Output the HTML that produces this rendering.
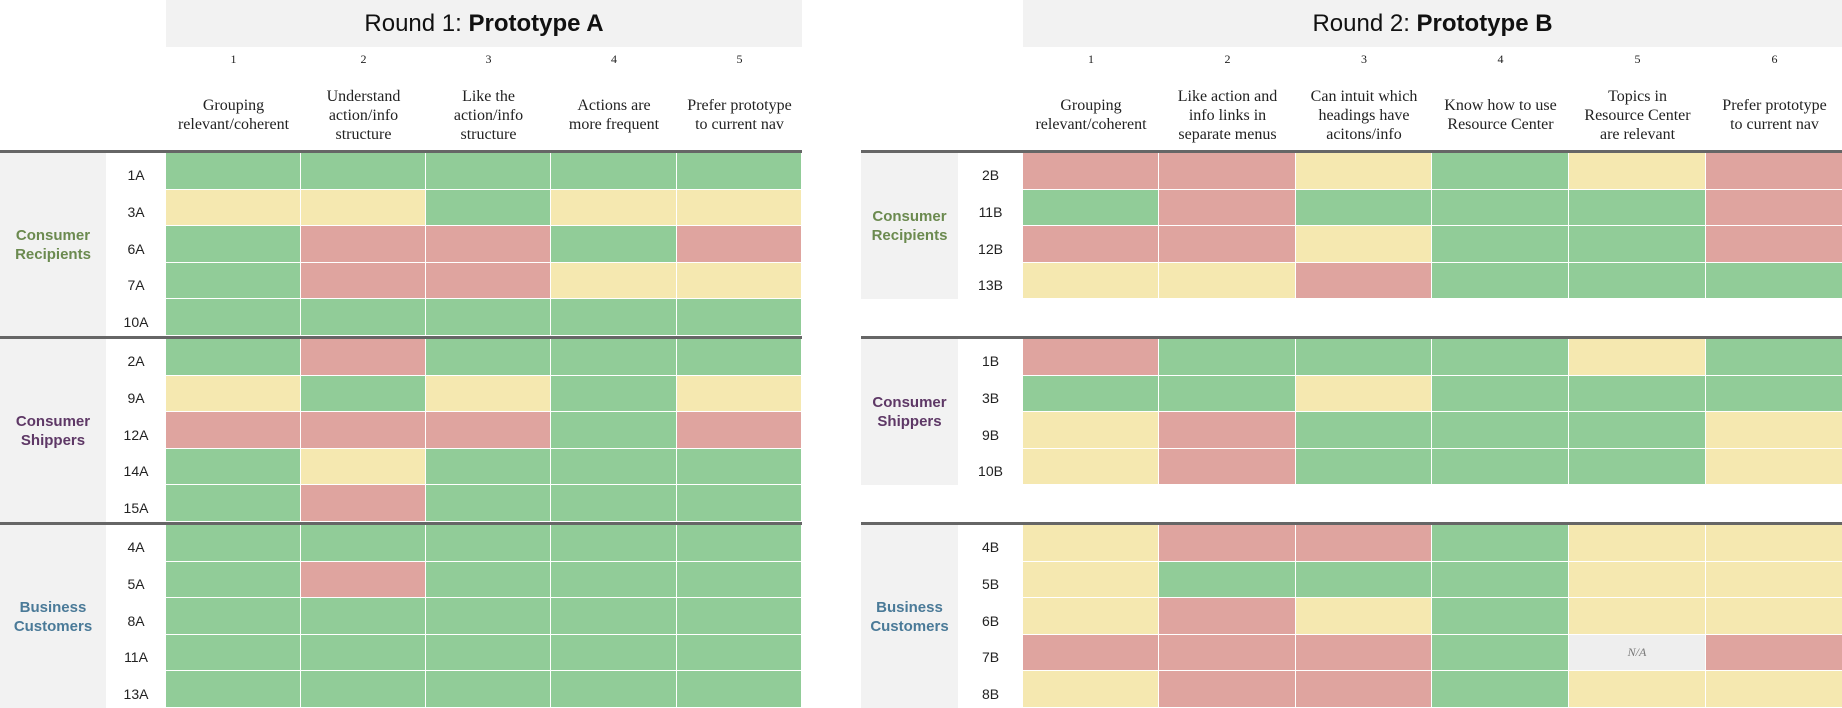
<!DOCTYPE html>
<html><head><meta charset="utf-8"><style>
body{margin:0;width:1842px;height:708px;overflow:hidden;background:#fff;font-family:"Liberation Sans",sans-serif;position:relative}
.a{position:absolute;box-sizing:border-box}
.title{background:#f2f2f2;text-align:center;font-size:24px;line-height:47px;color:#111}
.num{font-family:"Liberation Serif",serif;font-size:12px;text-align:center;color:#222}
.q{font-family:"Liberation Serif",serif;font-size:16px;line-height:19px;text-align:center;color:#222;display:flex;align-items:center;justify-content:center;white-space:nowrap}
.cell{border-right:1.5px solid #fff;border-bottom:1.5px solid #fff}
.rl{font-size:14px;text-align:center;color:#222}
.gl{background:#f2f2f2;font-weight:bold;font-size:15px;line-height:19px;text-align:center;display:flex;align-items:center;justify-content:center}
.line{background:#666;height:3px}
.na{font-family:"Liberation Serif",serif;font-style:italic;font-size:12px;color:#777;display:flex;align-items:center;justify-content:center}
</style></head><body>
<div class="a title" style="left:166px;top:0;width:636px;height:47px">Round 1: <b>Prototype A</b></div>
<div class="a title" style="left:1023px;top:0;width:819px;height:47px">Round 2: <b>Prototype B</b></div>
<script>
const leftQuestions=["Grouping<br>relevant/coherent","Understand<br>action/info<br>structure","Like the<br>action/info<br>structure","Actions are<br>more frequent","Prefer prototype<br>to current nav"];
const rightQuestions=["Grouping<br>relevant/coherent","Like action and<br>info links in<br>separate menus","Can intuit which<br>headings have<br>acitons/info","Know how to use<br>Resource Center","Topics in<br>Resource Center<br>are relevant","Prefer prototype<br>to current nav"];
const groups=["Consumer<br>Recipients","Consumer<br>Shippers","Business<br>Customers"];
const groupColors=["#6b8a4f","#5e3866","#4a7a98"];
const leftRows=[["1A","3A","6A","7A","10A"],["2A","9A","12A","14A","15A"],["4A","5A","8A","11A","13A"]];
const leftValues=[
["GGGGG","YYGYY","GRRGR","GRRYY","GGGGG"],
["GRGGG","YGYGY","RRRGR","GYGGG","GRGGG"],
["GGGGG","GRGGG","GGGGG","GGGGG","GGGGG"]];
const rightRows=[["2B","11B","12B","13B"],["1B","3B","9B","10B"],["4B","5B","6B","7B","8B"]];
const rightValues=[
["RRYGYR","GRGGGR","RRYGGR","YYRGGG"],
["RGGGYG","GGYGGG","YRGGGY","YRGGGY"],
["YRRGYY","YGGGYY","YRYGYY","RRRGNR","YRRGYY"]];
const colorMap={G:"#91cc98",Y:"#f5e8b0",R:"#dfa49f",N:"#eeeeee"};
const ROW_H=36.6, GROUP_PITCH=186, TOP=153;
function rowY(g,r){return TOP+g*GROUP_PITCH+r*ROW_H;}
function add(cls,x,y,w,h,html){const d=document.createElement('div');d.className='a '+cls;d.style.left=x+'px';d.style.top=y+'px';d.style.width=w+'px';d.style.height=h+'px';if(html!==undefined)d.innerHTML=html;document.body.appendChild(d);return d;}
function panel(side,qs,rows,vals,colX,glX,glW,rlX,rlW,lineX,lineW){
  qs.forEach((q,i)=>{
    const w=colX[i+1]-colX[i];
    const n=add('num',colX[i],52,w,16,String(i+1));
    
    
    const t=add('q',colX[i],85,w,60,q);
    
    
  });
  rows.forEach((grp,g)=>{
    const ln=add('line',lineX,TOP-3+g*GROUP_PITCH,lineW,3);
    
    
    const gh=grp.length*ROW_H;
    const gl=add('gl',glX,rowY(g,0),glW,gh,groups[g]);
    gl.style.color=groupColors[g];
    
    
    grp.forEach((lab,r)=>{
      const y=rowY(g,r);
      const rl=add('rl',rlX,y+ROW_H/2-4,rlW,16,lab);
      
      
      const v=vals[g][r];
      for(let c=0;c<v.length;c++){
        const k=v[c];
        const cell=add('cell'+(k==='N'?' na':''),colX[c],y,colX[c+1]-colX[c],ROW_H,k==='N'?'N/A':'');
        cell.style.background=colorMap[k];
        
        
      }
    });
  });
}
panel('round1',leftQuestions,leftRows,leftValues,[166,301,426,551,677,802],0,106,106,60,0,802);
panel('round2',rightQuestions,rightRows,rightValues,[1023,1159,1296,1432,1569,1706,1843],861,97,958,65,861,981);
</script>
</body></html>
